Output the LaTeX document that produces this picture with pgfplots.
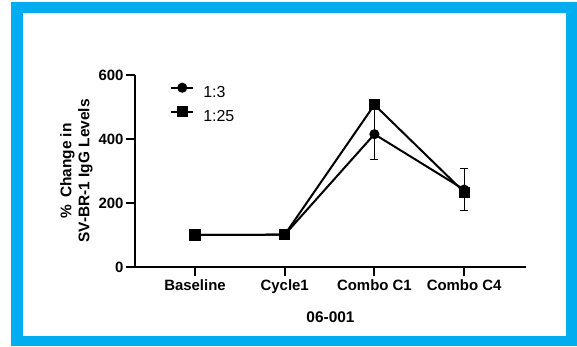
\documentclass[border=0pt]{standalone}
\usepackage{pgfplots}
\pgfplotsset{compat=1.18}
\usepackage{fontspec}
\setmainfont{Liberation Sans}
\definecolor{frameblue}{RGB}{0,174,239}
\begin{document}
\begin{tikzpicture}[x=1bp,y=1bp]
\fill[white] (0,0) rectangle (577,346);
\fill[frameblue] (11,0) rectangle (577,344);
\fill[white] (23,10) rectangle (566,333);
\begin{axis}[
  at={(135bp,79bp)}, anchor=south west,
  scale only axis, width=391bp, height=192bp,
  xmin=-0.669, xmax=3.69, ymin=0, ymax=600,
  axis x line*=bottom, axis y line*=left,
  axis line style={-, line width=2.5bp, black},
  xtick={0,1,2,3}, xticklabels={Baseline,Cycle1,Combo C1,Combo C4},
  ytick={0,200,400,600},
  tick align=outside, major tick length=9bp,
  tick style={line width=2bp, black},
  tick label style={font=\bfseries\fontsize{15}{17}\selectfont},
  yticklabel style={xshift=1bp},
  /pgf/number format/assume math mode=true,
  xlabel={\textbf{06-001}},
  xlabel style={at={(axis description cs:0.5,-0.26)}, anchor=center, font=\bfseries\fontsize{15.5}{17}\selectfont},
  ylabel={\%\hspace{0.45em}Change in\\SV-BR-1 IgG Levels},
  ylabel style={at={(axis description cs:-0.15,0.5)}, anchor=center, align=center, font=\bfseries\fontsize{15.5}{18}\selectfont},
  legend style={at={(axis description cs:0.082,0.966)}, anchor=north west, draw=none, fill=none,
    font=\fontsize{16}{18}\selectfont,
    nodes={inner sep=0pt, text height=12bp, text depth=4bp},
    row sep=6bp, column sep=9bp},
  legend cell align=left,
  legend image code/.code={\draw[#1, mark repeat=2, mark phase=2] plot coordinates {(0bp,5.5bp) (11bp,5.5bp) (22bp,5.5bp)};},
]
\addplot[draw=none, forget plot, error bars/.cd, y dir=both, y explicit,
  error bar style={line width=1bp, black},
  error mark options={rotate=90, mark size=4bp, line width=1bp, black}]
  coordinates {(2,415) +- (0,79) (3,242) +- (0,66)};
\addplot[draw=none, forget plot, error bars/.cd, y dir=both, y explicit,
  error bar style={line width=1bp, black},
  error mark options={rotate=90, mark size=4bp, line width=1bp, black}]
  coordinates {(2,507) +- (0,13)};
\addplot[line width=2bp, black, mark=*, mark size=4bp, mark options={solid, fill=black}]
  coordinates {(0,100) (1,101) (2,415) (3,242)};
\addlegendentry{1:3}
\addplot[line width=2bp, black, mark=square*, mark size=4.6bp, mark options={solid, fill=black}]
  coordinates {(0,100) (1,101) (2,507) (3,234)};
\addlegendentry{1:25}
\end{axis}
\end{tikzpicture}
\end{document}
